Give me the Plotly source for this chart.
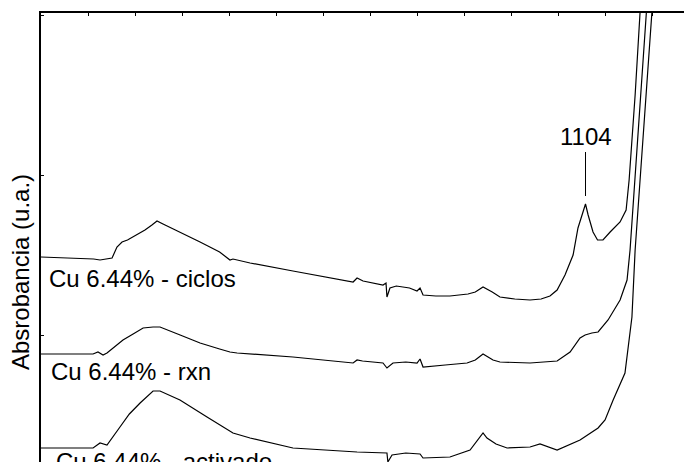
import plotly.graph_objects as go

# wavenumber (cm-1) / absorbance (a.u., stacked with offset)
wn_ciclos = [4000, 3846, 3720, 3686, 3649, 3622, 3596, 3569, 3540, 3511, 3480, 3447, 3410, 3383,
             3351, 3250, 3154, 3050, 2995, 2979, 2888, 2660, 2340, 2319, 2300, 2287, 2181, 2165,
             2160, 2144, 2110, 2074, 2040, 2000, 1984, 1968, 1900, 1825, 1729, 1690, 1649, 1600,
             1559, 1480, 1399, 1340, 1293, 1255, 1213, 1170, 1144, 1104, 1090, 1064, 1040, 1011,
             990, 973, 920, 888, 872, 840, 814, 790]
a_ciclos = [2.05, 2.04, 2.03, 2.02, 2.03, 2.04, 2.15, 2.20, 2.22, 2.25, 2.28, 2.32, 2.37, 2.41,
            2.38, 2.29, 2.20, 2.10, 2.02, 2.03, 1.99, 1.91, 1.80, 1.84, 1.82, 1.81, 1.77, 1.79,
            1.65, 1.74, 1.76, 1.75, 1.74, 1.71, 1.74, 1.67, 1.66, 1.66, 1.68, 1.70, 1.75, 1.70,
            1.65, 1.63, 1.62, 1.63, 1.66, 1.72, 1.87, 2.07, 2.34, 2.58, 2.47, 2.30, 2.22, 2.22,
            2.27, 2.30, 2.40, 2.52, 2.82, 3.67, 4.49, 5.10]

wn_rxn = [4000, 3723, 3697, 3670, 3649, 3600, 3564, 3510, 3457, 3404, 3367, 3260, 3154, 3050,
          2995, 2957, 2888, 2660, 2340, 2319, 2290, 2181, 2160, 2128, 2060, 2000, 1984, 1968,
          1850, 1734, 1690, 1649, 1596, 1559, 1399, 1255, 1186, 1133, 1106, 1070, 1037, 984,
          920, 883, 867, 782, 760]
a_rxn = [1.08, 1.08, 1.10, 1.07, 1.09, 1.16, 1.22, 1.28, 1.34, 1.35, 1.35, 1.27, 1.19, 1.13,
         1.10, 1.09, 1.08, 1.05, 0.99, 1.02, 1.01, 0.99, 0.94, 0.99, 1.00, 0.99, 1.03, 0.95,
         0.97, 0.99, 1.02, 1.08, 1.02, 1.00, 0.99, 1.01, 1.10, 1.24, 1.27, 1.29, 1.30, 1.42,
         1.62, 1.82, 2.12, 4.49, 5.05]

wn_activado = [4000, 3723, 3686, 3649, 3580, 3530, 3473, 3404, 3367, 3261, 3117, 2979, 2888,
               2660, 2319, 2160, 2155, 2133, 2060, 1984, 1968, 1825, 1718, 1649, 1628, 1580,
               1521, 1399, 1346, 1255, 1133, 1037, 1000, 957, 894, 878, 857, 840, 750, 730]
a_activado = [0.14, 0.14, 0.19, 0.17, 0.35, 0.48, 0.59, 0.71, 0.71, 0.62, 0.45, 0.29, 0.24,
              0.14, 0.10, 0.09, 0.00, 0.07, 0.09, 0.08, 0.04, 0.05, 0.12, 0.29, 0.24, 0.18,
              0.14, 0.15, 0.18, 0.12, 0.22, 0.34, 0.42, 0.62, 0.89, 1.12, 1.45, 2.12, 4.49, 5.05]

series = [
    ("Cu 6.44% - ciclos", wn_ciclos, a_ciclos, 3968, 1.835),
    ("Cu 6.44% - rxn", wn_rxn, a_rxn, 3957, 0.905),
    ("Cu 6.44% - activado", wn_activado, a_activado, 3931, 0.005),
]

peak_wn = 1104
peak_label = "1104"

font = dict(family="Arial, Liberation Sans, sans-serif", size=24, color="black")

fig = go.Figure()
for name, x, y, lx, ly in series:
    fig.add_trace(go.Scatter(x=x, y=y, mode="lines", name=name,
                             line=dict(color="black", width=1.2)))
    fig.add_annotation(x=lx, y=ly, text=name, showarrow=False,
                       xanchor="left", yanchor="middle", font=font)

# peak marker
fig.add_shape(type="line", x0=peak_wn, x1=peak_wn, y0=2.66, y1=3.10,
              line=dict(color="black", width=1))
fig.add_annotation(x=peak_wn, y=3.255, text=peak_label, showarrow=False,
                   xanchor="center", yanchor="middle", font=font)

# y title
fig.add_annotation(xref="paper", yref="paper", x=-0.032, y=0.433,
                   text="Absrobancia (u.a.)", textangle=-90, showarrow=False,
                   xanchor="center", yanchor="middle", font=font)

fig.update_layout(
    width=692, height=462,
    margin=dict(l=33, r=0, t=5, b=0),
    plot_bgcolor="white", paper_bgcolor="white",
    showlegend=False,
    xaxis=dict(range=[4000, 495], side="top", showline=True, linecolor="black", linewidth=2,
               ticks="inside", tick0=0, dtick=250, ticklen=3, tickcolor="black",
               showticklabels=False, showgrid=False, zeroline=False),
    yaxis=dict(range=[-0.08, 4.49], showline=True, linecolor="black", linewidth=2,
               ticks="inside", tick0=1.27, dtick=1.6, ticklen=3, tickcolor="black",
               showticklabels=False, showgrid=False, zeroline=False),
)

fig.write_html("out.html")
